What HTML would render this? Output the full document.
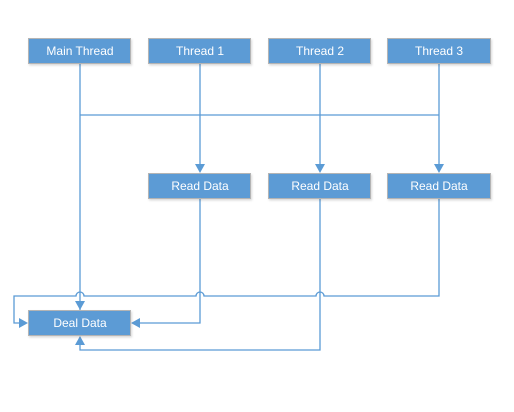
<!DOCTYPE html>
<html><head><meta charset="utf-8"><style>
html,body{margin:0;padding:0;background:#fff;width:514px;height:412px;overflow:hidden}
</style></head><body>
<svg width="514" height="412" viewBox="0 0 514 412" xmlns="http://www.w3.org/2000/svg">
<defs>
<filter id="sh" x="-10%" y="-20%" width="130%" height="160%"><feDropShadow dx="1" dy="1.5" stdDeviation="1" flood-color="#000" flood-opacity="0.15"/></filter>
</defs>
<g fill="none" stroke="#5b9bd5" stroke-width="1.3">
<path d="M80 63 V310"/>
<path d="M80 115 H439"/>
<path d="M200 63 V165"/>
<path d="M320 63 V165"/>
<path d="M439 63 V165"/>
<path d="M200 198 V323 H140"/>
<path d="M320 198 V350 H80 V345"/>
<path d="M439 198 V296 H324 A4 4 0 0 0 316 296 H204 A4 4 0 0 0 196 296 H84 A4 4 0 0 0 76 296 H14 V323 H20"/>
</g>
<g fill="#5b9bd5">
<path d="M195 164 L205 164 L200 173 Z"/>
<path d="M315 164 L325 164 L320 173 Z"/>
<path d="M434 164 L444 164 L439 173 Z"/>
<path d="M75 301 L85 301 L80 310 Z"/>
<path d="M140 318 L140 328 L131 323 Z"/>
<path d="M75 345 L85 345 L80 336 Z"/>
<path d="M19 318 L19 328 L28 323 Z"/>
</g>
<g font-family="Liberation Sans, sans-serif" font-size="12" fill="#fff" text-anchor="middle">
<g filter="url(#sh)" fill="#5b9bd5" stroke="#b4b4b4" stroke-width="1">
<rect x="28.5" y="38.5" width="102" height="25"/>
<rect x="148.5" y="38.5" width="102" height="25"/>
<rect x="268.5" y="38.5" width="102" height="25"/>
<rect x="387.5" y="38.5" width="103" height="25"/>
<rect x="148.5" y="173.5" width="102" height="25"/>
<rect x="268.5" y="173.5" width="102" height="25"/>
<rect x="387.5" y="173.5" width="103" height="25"/>
<rect x="28.5" y="310.5" width="102" height="25"/>
</g>
<text x="80" y="55">Main Thread</text>
<text x="200" y="55">Thread 1</text>
<text x="320" y="55">Thread 2</text>
<text x="439" y="55">Thread 3</text>
<text x="200" y="190">Read Data</text>
<text x="320" y="190">Read Data</text>
<text x="439" y="190">Read Data</text>
<text x="80" y="327">Deal Data</text>
</g>
</svg>
</body></html>
